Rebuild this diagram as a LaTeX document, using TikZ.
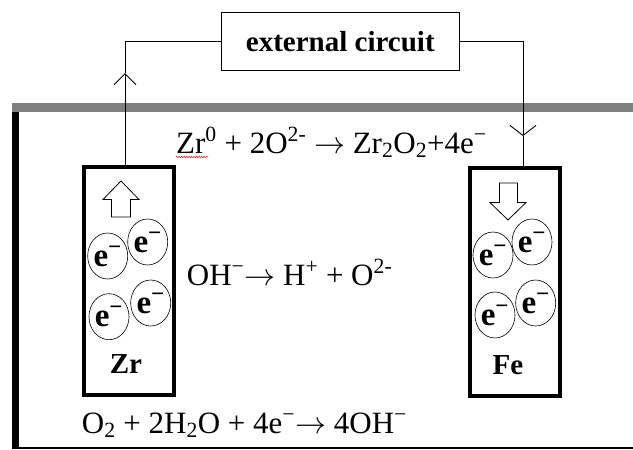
\RequirePackage{fix-cm}
\documentclass[tikz,border=0pt]{standalone}
\usepackage{fontspec}
\setmainfont{Liberation Serif}
\usepackage{xcolor}
\usepackage{tikz}
\usetikzlibrary{shapes.geometric, arrows.meta, positioning, calc, decorations.pathmorphing}
\definecolor{wallgray}{RGB}{128, 128, 128}
\definecolor{spellred}{RGB}{230, 50, 50}

\begin{document}
\begin{tikzpicture}[x=1pt, y=-1pt,
    electrode/.style={draw, line width=4pt, minimum width=90pt, minimum height=228pt, inner sep=0pt},
    electron/.style={ellipse, draw, line width=0.6pt, minimum width=32pt, minimum height=46pt, inner sep=0pt,
          font=\bfseries\fontsize{33}{33}\selectfont},
    metal/.style={font=\bfseries\fontsize{29}{29}\selectfont},
    flowarrow/.style={draw, line width=0.8pt, fill=white},
    wire/.style={line width=0.9pt},
    eqtext/.style={anchor=base west, inner sep=0pt, font=\fontsize{31}{31}\selectfont}]
    \useasboundingbox (0,0) rectangle (633,450);
    % tank
    \fill[wallgray] (11.7,103) rectangle (633,112);
    \fill[black] (12,112) rectangle (19,448);
    \draw[line width=1.5pt] (12,448) -- (633,448);
    % electrodes
    \node[electrode] (zr) at (128.7,281.3) {};
    \node[electrode] (fe) at (514.9,282.3) {};
    \node[metal] (zrname) at (126,364) {Zr};
    \node[metal] (fename) at (508,365.5) {Fe};
    \draw[flowarrow] (111.5,217) -- (111.5,199.5) -- (103,199.5) -- (121,181) -- (139,199.5)
        -- (130.5,199.5) -- (130.5,217) -- cycle;
    \draw[flowarrow] (499.5,183) -- (517.5,183) -- (517.5,202.5) -- (526,202.5) -- (508,220)
        -- (490,202.5) -- (499.5,202.5) -- cycle;
    % electrons
    \node[electron] (zre1) at (107.7,256) {e\textsuperscript{−}};
    \node[electron] (zre2) at (147.7,242) {e\textsuperscript{−}};
    \node[electron] (zre3) at (109,316.7) {e\textsuperscript{−}};
    \node[electron] (zre4) at (150.7,303) {e\textsuperscript{−}};
    \node[electron] (fee1) at (493,255) {e\textsuperscript{−}};
    \node[electron] (fee2) at (532,242) {e\textsuperscript{−}};
    \node[electron] (fee3) at (495,315) {e\textsuperscript{−}};
    \node[electron] (fee4) at (535.7,303) {e\textsuperscript{−}};
    % external circuit
    \node[draw, line width=0.9pt, minimum width=238pt, minimum height=58pt, inner sep=0pt,
          font=\bfseries\fontsize{29}{29}\selectfont] (ext) at (340.3,41.3) {external circuit};
    \coordinate (uptip) at (125,73);
    \coordinate (downtip) at (523,136);
    \draw[wire, -{Straight Barb[length=11pt, width=22pt]}] (zr.north -| uptip) -- (uptip);
    \draw[wire] (uptip) |- (ext.west);
    \draw[wire, -{Straight Barb[length=10pt, width=26pt]}] (ext.east) -| (downtip);
    \draw[wire] (downtip) -- (downtip |- fe.north);
    % reactions
    \node[eqtext] (eqzr) at (176,153) {Zr\textsuperscript{0} + 2O\textsuperscript{2-} $\rightarrow$ Zr\textsubscript{2}O\textsubscript{2}+4e\textsuperscript{−}};
    \node[eqtext] (eqoh) at (186.7,285) {OH\textsuperscript{−}$\rightarrow$ H\textsuperscript{+} + O\textsuperscript{2-}};
    \node[eqtext] (eqox) at (81.7,433) {O\textsubscript{2} + 2H\textsubscript{2}O + 4e\textsuperscript{−}$\rightarrow$ 4OH\textsuperscript{−}};
    \draw[spellred, line width=0.6pt, decorate, decoration={zigzag, amplitude=0.8pt, segment length=2.5pt}]
        ($(eqzr.base west)+(0,4)$) -- ++(32,0);
\end{tikzpicture}
\end{document}
